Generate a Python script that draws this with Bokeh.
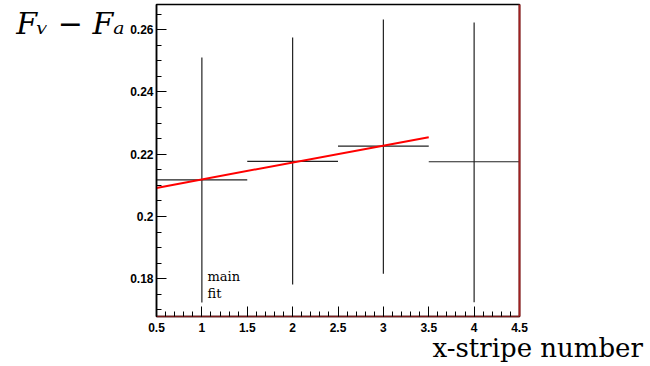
from bokeh.plotting import figure
from bokeh.models import Label, Title, FixedTicker, LinearAxis
from bokeh.embed import file_html
from bokeh.resources import INLINE

# Measured F_V - F_A per x-stripe, with bin half-widths and error bars
stripe = [1, 2, 3, 4]
value = [0.2118, 0.2177, 0.2226, 0.2176]
err_hi = [0.2511, 0.2575, 0.2633, 0.2623]
err_lo = [0.1724, 0.1782, 0.1816, 0.1725]
bin_lo = [0.5, 1.5, 2.5, 3.5]
bin_hi = [1.5, 2.5, 3.5, 4.5]

# Linear fit over the first three stripes
fit_x = [0.5, 3.5]
fit_y = [0.2092, 0.2255]

x_ticks = [0.5, 1, 1.5, 2, 2.5, 3, 3.5, 4, 4.5]
y_ticks = [0.18, 0.2, 0.22, 0.24, 0.26]

y_title = "F\u1d65 \u2212 F\u2090"
x_title = "x-stripe number"

p = figure(width=650, height=366, output_backend="svg", toolbar_location=None,
           x_range=(0.5, 4.5), y_range=(0.1679, 0.2681),
           min_border_left=156, min_border_right=131,
           min_border_top=4, min_border_bottom=50)
p.xgrid.visible = False
p.ygrid.visible = False
p.outline_line_color = "black"
p.outline_line_width = 1.5
p.background_fill_color = "white"
p.border_fill_color = "white"

for ax in (p.xaxis[0], p.yaxis[0]):
    ax.major_tick_in = 10
    ax.major_tick_out = 0
    ax.minor_tick_in = 5
    ax.minor_tick_out = 0
    ax.major_tick_line_color = "black"
    ax.minor_tick_line_color = "black"
    ax.major_label_text_font = "Liberation Sans"
    ax.major_label_text_font_style = "bold"
    ax.major_label_text_font_size = "12px"
    ax.major_label_text_color = "black"

p.xaxis[0].ticker = FixedTicker(ticks=x_ticks,
                                minor_ticks=[0.5 + 0.1 * i for i in range(41)])
p.yaxis[0].ticker = FixedTicker(ticks=y_ticks,
                                minor_ticks=[0.165 + 0.005 * i for i in range(22)])
p.xaxis[0].major_label_overrides = {0.5: "0.5", 1: "1", 1.5: "1.5", 2: "2",
                                    2.5: "2.5", 3: "3", 3.5: "3.5", 4: "4", 4.5: "4.5"}
p.yaxis[0].major_label_overrides = {0.18: "0.18", 0.2: "0.2", 0.22: "0.22",
                                    0.24: "0.24", 0.26: "0.26"}
p.xaxis[0].major_label_standoff = 6
p.yaxis[0].major_label_standoff = 3
p.xaxis[0].axis_line_color = "#7a1a1a"
p.xaxis[0].axis_line_width = 1.5
p.yaxis[0].axis_line_color = "black"
p.yaxis[0].axis_line_width = 1.5

# right frame edge: a bare axis line in dark red
right = LinearAxis(ticker=FixedTicker(ticks=[]), major_label_text_font_size="0px",
                   axis_line_color="#a02020", axis_line_width=2,
                   major_tick_line_color=None, minor_tick_line_color=None)
p.add_layout(right, "right")

# y title sits at the top end of the value axis, as a single tick label
title_tick = 0.2655
title_axis = LinearAxis(ticker=FixedTicker(ticks=[title_tick]),
                        major_label_overrides={title_tick: y_title},
                        major_label_text_font="DejaVu Serif",
                        major_label_text_font_style="italic",
                        major_label_text_font_size="30px",
                        major_label_text_color="black",
                        major_label_standoff=-3,
                        axis_line_color=None, major_tick_line_color=None,
                        minor_tick_line_color=None)
p.add_layout(title_axis, "left")

# x title, right of centre below the axis
p.add_layout(Title(text=x_title, align="left", offset=276, standoff=-7,
                   text_font="DejaVu Serif", text_font_size="26px",
                   text_font_style="normal", text_color="black"), "below")

# error bars and bin widths
p.segment(x0=stripe, y0=err_lo, x1=stripe, y1=err_hi, line_color="#222222", line_width=1.2)
p.segment(x0=bin_lo, y0=value, x1=bin_hi, y1=value, line_color="#222222", line_width=1.2)

# fit line
p.line(fit_x, fit_y, line_color="#ff0000", line_width=2)

# annotation inside the frame
for word, y in (("main", 276), ("fit", 293)):
    p.add_layout(Label(x=207, y=y, x_units="canvas", y_units="canvas", text=word,
                       text_font="DejaVu Serif", text_font_size="13px",
                       text_color="black", text_baseline="alphabetic"))

open("out.html", "w").write(file_html(p, INLINE))
